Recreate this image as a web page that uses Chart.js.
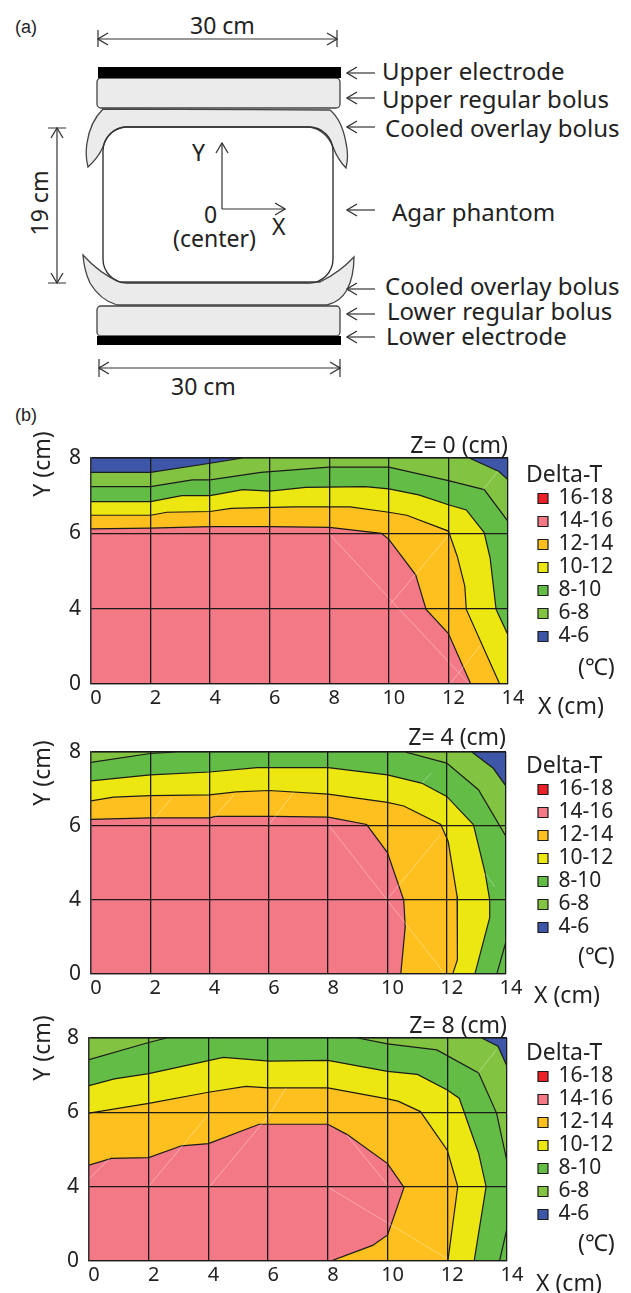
<!DOCTYPE html>
<html>
<head>
<meta charset="utf-8">
<script src="https://cdn.jsdelivr.net/npm/chart.js@4"></script>
<style>
html,body{margin:0;padding:0;background:#fff}
#page{position:relative;width:631px;height:1293px;overflow:hidden;font-family:"Noto Sans",sans-serif;color:#222}
canvas{position:absolute;left:0}
svg{position:absolute;left:0;top:0}
.note{position:absolute;white-space:nowrap;font-size:23px;line-height:28px;transform:translate(0,-50%)}
.small{font-family:"Liberation Sans",sans-serif;font-size:18px}
.lab{font-size:24px}
.rot{transform:translate(-50%,-50%) rotate(-90deg)}
</style>
</head>
<body>
<div id="page">
<svg width="631" height="400" viewBox="0 0 631 400">
<defs>
<marker id="tip" markerWidth="12" markerHeight="14" refX="11" refY="7" orient="auto-start-reverse" markerUnits="userSpaceOnUse">
<path d="M1 1 L11 7 L1 13" fill="none" stroke="#333" stroke-width="1.3"/>
</marker>
</defs>
<g stroke="#444" stroke-width="1.3" fill="#ebebeb">
<path d="M103 109 Q90 122 87 143 Q85 156 88 167 Q98 158 103 147 Q108 130 124 127 L310 127 Q326 130 333 147 Q338 160 346 168 Q349 156 346 143 Q342 120 330 110 Z"/>
<path d="M83 255 Q84 270 90 283 Q100 300 117 305 L327 305 Q340 302 347 290 Q354 276 354 257 Q340 272 320 282 L120 282 Q100 274 83 255 Z"/>
<rect x="97" y="78" width="243" height="30" rx="4"/>
<rect x="97" y="306" width="243" height="30" rx="4"/>
</g>
<rect x="103" y="127" width="230" height="156" rx="24" fill="none" stroke="#333" stroke-width="1.4"/>
<rect x="98" y="67" width="243" height="11" fill="#000"/>
<rect x="97" y="336" width="244" height="9" fill="#000"/>
<g stroke="#333" stroke-width="1.2" fill="none">
<path d="M98 39 H337" marker-start="url(#tip)" marker-end="url(#tip)"/>
<path d="M98 30 V47 M337 30 V47"/>
<path d="M99 368 H340" marker-start="url(#tip)" marker-end="url(#tip)"/>
<path d="M99 359 V377 M340 359 V377"/>
<path d="M57 128 V283" marker-start="url(#tip)" marker-end="url(#tip)"/>
<path d="M48 128 H66 M48 283 H66"/>
<path d="M222 209 V143" marker-end="url(#tip)"/>
<path d="M222 209 H285" marker-end="url(#tip)"/>
<path d="M375 73 H347" marker-end="url(#tip)"/>
<path d="M375 98 H347" marker-end="url(#tip)"/>
<path d="M375 127 H347" marker-end="url(#tip)"/>
<path d="M375 210 H347" marker-end="url(#tip)"/>
<path d="M375 289 H347" marker-end="url(#tip)"/>
<path d="M375 314 H347" marker-end="url(#tip)"/>
<path d="M375 337 H347" marker-end="url(#tip)"/>
</g>
</svg>
<canvas id="chartZ0"></canvas>
<canvas id="chartZ4"></canvas>
<canvas id="chartZ8"></canvas>
</div>
<script>
// band names, top of the legend first
const bandLabels = ["16-18","14-16","12-14","10-12","8-10","6-8","4-6"]
const bandColors = ["#ec2027","#f47986","#fdc01e","#ede711","#63bc46","#82c341","#3d56a8"]
const xTicks = [0,2,4,6,8,10,12,14]
// the Y axis of the original has evenly spaced categories, so y below is the position along it
const yTickLabels = ["0","4","6","8"]

// upper edge of every band as [x cm, y position], Z = 0
const z0_14 = [[0,2.06],[2,2.07],[4,2.09],[6,2.09],[8,2.08],[9.75,2],[10,1.92],[10.9,1.45],[11.25,.99],[12,.67],[12.75,0],[14,0]]
const z0_12 = [[0,2.24],[2,2.24],[2.55,2.28],[4,2.29],[4.7,2.33],[6.8,2.35],[8.7,2.35],[10,2.28],[10.6,2.24],[12,2.03],[12.3,1.69],[12.55,1.3],[12.6,.99],[13.72,0],[14,0]]
const z0_10 = [[0,2.42],[2,2.42],[3.05,2.5],[4,2.5],[5.1,2.58],[6,2.56],[7.2,2.61],[9.2,2.62],[10,2.59],[11,2.51],[12,2.38],[12.6,2.31],[13.2,2.01],[13.4,1.67],[13.6,.99],[14,.65]]
const z0_8 = [[0,2.62],[2,2.62],[3.4,2.71],[4,2.71],[5.7,2.81],[8,2.88],[10,2.88],[12,2.7],[13.2,2.58],[14,2.16]]
const z0_6 = [[0,2.81],[2,2.81],[4,2.93],[5.1,3],[12.7,3],[13.7,2.82],[14,2.71]]
const z0_4 = [[0,3],[14,3]]
// pale seams left by the contour triangles
const z0_seams = [[[8.02,1.98],[12.7,0]],[[9.98,1.03],[12,1.97]],[[12.05,0],[13.05,.5]],[[13.16,2.58],[13.66,2.82]]]

// Z = 4
const z4_14 = [[0,2.09],[2,2.11],[4,2.11],[4.2,2.13],[6.15,2.13],[8,2.12],[9.3,2.02],[10,1.64],[10.55,1],[10.6,.64],[10.45,0],[14,0]]
const z4_12 = [[0,2.34],[.76,2.39],[2,2.41],[4,2.42],[4.9,2.46],[6,2.48],[8,2.43],[10,2.32],[10.55,2.27],[11.8,2.02],[12.05,1.79],[12.35,1.05],[12.36,.19],[12.2,0],[14,0]]
const z4_10 = [[0,2.61],[2,2.69],[4,2.73],[5.6,2.79],[8,2.79],[10,2.69],[11.15,2.58],[12,2.4],[12.9,2.02],[13.3,1.36],[13.45,1],[13.45,.76],[12.95,0],[14,0]]
const z4_8 = [[0,2.86],[2,2.98],[2.9,3],[10.6,3],[12,2.85],[13.07,2.49],[14,1.86],[14,.44],[13.69,0],[14,0]]
const z4_6 = [[0,3],[12.85,3],[13.57,2.78],[14,2.54]]
const z4_4 = [[0,3],[14,3]]
const z4_seams = [[[8.04,2],[11.94,0]],[[10.03,1.03],[11.78,1.88]],[[2.17,2.11],[2.73,2.38]],[[4.19,2.13],[4.81,2.42]],[[6.04,2.04],[6.83,2.45]],[[11.16,2.58],[11.49,2.72]],[[13.29,1.36],[13.63,1.18]]]

// Z = 8
const z8_14 = [[0,1.29],[.75,1.38],[2,1.39],[3.1,1.55],[4,1.58],[5.7,1.84],[8,1.84],[8.65,1.7],[10,1.31],[10.55,.99],[10,.35],[9.5,.21],[8.1,0],[14,0]]
const z8_12 = [[0,1.99],[2,2.12],[4,2.27],[5.25,2.35],[6,2.33],[8,2.33],[10,2.18],[10.35,2.15],[11.1,2.01],[12,1.49],[12.35,1],[12.02,0],[14,0]]
const z8_10 = [[0,2.36],[.85,2.45],[2,2.52],[4.5,2.74],[6.05,2.69],[8,2.7],[10,2.55],[11,2.51],[12,2.3],[12.4,2.19],[13.05,1.45],[13.3,1],[12.9,0],[14,0]]
const z8_8 = [[0,2.71],[2,2.94],[2.6,3],[9,3],[10,2.92],[11.65,2.84],[13.05,2.53],[13.65,1.99],[14,1.34],[14,.44],[13.75,0],[14,0]]
const z8_6 = [[0,3],[13.15,3],[13.7,2.89],[14,2.62]]
const z8_4 = [[0,3],[14,3]]
const z8_seams = [[[.02,1.11],[.69,1.38]],[[2.03,1.02],[4.04,1.99]],[[4.04,1],[6.05,1.97],[6.6,2.33]],[[8.06,.98],[12,.03]],[[8.62,1.7],[10,1.02]],[[13.03,2.53],[13.64,2.84]]]

Chart.defaults.font.family = "'Noto Sans', sans-serif"
Chart.defaults.color = "#222"

// legend stays a normal Chart.js legend, only shifted to the right of the plot
function moveLegend(left,top){
return {
id:"moveLegend",
afterLayout(chart){
let l = chart.legend
let h = l.height
l.left = left
l.right = 631
l.top = top
l.bottom = top+h
}
}
}

function drawPanel(id,title,edges,seams,box){
let canvas = document.getElementById(id)
canvas.style.top = box.top+"px"
canvas.width = 631
canvas.height = box.height
let seamSets = seams.map(s=>({
label:"",
data:s.map(p=>({x:p[0],y:p[1]})),
showLine:true,
fill:false,
borderColor:"rgba(255,255,255,0.35)",
borderWidth:1,
pointRadius:0
}))
let bandSets = bandLabels.map((label,i)=>({
label:label,
data:edges[i].map(p=>({x:p[0],y:p[1]})),
showLine:true,
fill:"start",
backgroundColor:bandColors[i],
borderColor:"#1c1c1c",
borderWidth:1.2,
pointRadius:0,
tension:0
}))
new Chart(canvas,{
type:"scatter",
data:{datasets:seamSets.concat(bandSets)},
plugins:[moveLegend(box.legendLeft,box.legendTop-box.top)],
options:{
responsive:false,
animation:false,
layout:{padding:{right:box.padRight,left:0,top:0,bottom:0}},
plugins:{
tooltip:{enabled:false},
title:{display:true,text:title,align:"end",fullSize:false,font:{size:23,weight:"normal",lineHeight:1},padding:{top:0,bottom:box.titleGap},color:"#222"},
legend:{
position:"right",
align:"start",
maxWidth:60,
labels:{boxWidth:10,boxHeight:10,padding:2,font:{size:21},color:"#222",filter:item=>item.text!=""}
}
},
scales:{
x:{
type:"linear",min:0,max:14,
afterFit(s){s.height=30},
afterBuildTicks(s){s.ticks=xTicks.map(v=>({value:v}))},
grid:{color:"#1a1a1a",lineWidth:1.3,z:1,drawTicks:false},
border:{color:"#333",width:1.3,z:1},
ticks:{font:{size:20},padding:2,labelOffset:5,maxRotation:0,color:"#222"}
},
y:{
type:"linear",min:0,max:3,
afterFit(s){s.width=box.axisWidth},
afterBuildTicks(s){s.ticks=yTickLabels.map((t,i)=>({value:i}))},
grid:{color:"#1a1a1a",lineWidth:1.3,z:1,drawTicks:false},
border:{color:"#333",width:1.3,z:1},
ticks:{font:{size:21},padding:10,color:"#222",callback:v=>yTickLabels[v]}
}
}
}
})
}

drawPanel("chartZ0","Z= 0 (cm)",[[],z0_14,z0_12,z0_10,z0_8,z0_6,z0_4],z0_seams,
{top:435,height:279,padRight:63,axisWidth:91,titleGap:0,legendLeft:536,legendTop:486})
drawPanel("chartZ4","Z= 4 (cm)",[[],z4_14,z4_12,z4_10,z4_8,z4_6,z4_4],z4_seams,
{top:727,height:277,padRight:65,axisWidth:91,titleGap:2,legendLeft:536,legendTop:777})
drawPanel("chartZ8","Z= 8 (cm)",[[],z8_14,z8_12,z8_10,z8_8,z8_6,z8_4],z8_seams,
{top:1015,height:276,padRight:64,axisWidth:89,titleGap:0,legendLeft:536,legendTop:1064})

// text around the charts
let notes = [
["(a)",15,27,"small"],["(b)",15,415,"small"],
["30 cm",190,25],["30 cm",171,386],
["Y",192,152],["0",204,214],["(center)",173,238],["X",272,226],
["Upper electrode",382,71,"lab"],["Upper regular bolus",382,99,"lab"],["Cooled overlay bolus",385,128,"lab"],
["Agar phantom",392,212,"lab"],["Cooled overlay bolus",385,286,"lab"],["Lower regular bolus",387,311,"lab"],["Lower electrode",386,336,"lab"],
["Delta-T",526,473],["(℃)",578,666],["X (cm)",538,705],
["Delta-T",526,764],["(℃)",578,955],["X (cm)",534,994],
["Delta-T",526,1051],["(℃)",578,1242],["X (cm)",536,1282]
]
let page = document.getElementById("page")
notes.forEach(n=>{
let d = document.createElement("div")
d.className = "note "+(n[3]||"")
d.textContent = n[0]
d.style.left = n[1]+"px"
d.style.top = n[2]+"px"
page.appendChild(d)
})
let rotated = [["19 cm",39,203],["Y (cm)",41,464],["Y (cm)",41,773],["Y (cm)",41,1048]]
rotated.forEach(n=>{
let d = document.createElement("div")
d.className = "note rot"
d.textContent = n[0]
d.style.left = n[1]+"px"
d.style.top = n[2]+"px"
page.appendChild(d)
})
</script>
</body>
</html>
